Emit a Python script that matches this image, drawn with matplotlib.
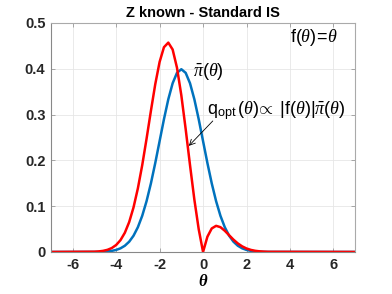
import matplotlib
matplotlib.use('Agg')
import matplotlib.pyplot as plt
import numpy as np

# theta grid (curves are flat zero outside [-5, 3])
theta = [-7.0, -5.0, -4.8, -4.6, -4.4, -4.2, -4.0, -3.8, -3.6, -3.4, -3.2,
         -3.0, -2.8, -2.6, -2.4, -2.2, -2.0, -1.8, -1.6, -1.4, -1.2,
         -1.0, -0.8, -0.6, -0.4, -0.2, 0.0, 0.2, 0.4, 0.6, 0.8,
         1.0, 1.2, 1.4, 1.6, 1.8, 2.0, 2.2, 2.4, 2.6, 2.8, 3.0, 7.0]

# target density pi_bar(theta)
pi_bar = [0.0, 0.00013, 0.00029, 0.00061, 0.00123, 0.00238, 0.00443, 0.00792, 0.01358, 0.02239, 0.03547,
          0.05399, 0.07895, 0.11092, 0.14973, 0.19419, 0.24197, 0.28969, 0.33322, 0.36827, 0.39104,
          0.39894, 0.39104, 0.36827, 0.33322, 0.28969, 0.24197, 0.19419, 0.14973, 0.11092, 0.07895,
          0.05399, 0.03547, 0.02239, 0.01358, 0.00792, 0.00443, 0.00238, 0.00123, 0.00061, 0.00029, 0.00013, 0.0]

# optimal proposal q_opt(theta)
q_opt = [0.0, 0.00056, 0.00119, 0.00241, 0.00464, 0.00857, 0.01519, 0.02580, 0.04191, 0.06526, 0.09729,
         0.13884, 0.18949, 0.24721, 0.30803, 0.36621, 0.41483, 0.44698, 0.45701, 0.44195, 0.40224,
         0.34197, 0.26816, 0.18941, 0.11425, 0.04966, 0.0, 0.03329, 0.05134, 0.05705, 0.05414,
         0.04628, 0.03649, 0.02687, 0.01863, 0.01222, 0.00759, 0.00449, 0.00253, 0.00136, 0.00070, 0.00033, 0.0]

xticks = [-6, -4, -2, 0, 2, 4, 6]
yticks = [0, 0.1, 0.2, 0.3, 0.4, 0.5]

plt.rcParams['font.family'] = ['Liberation Sans', 'DejaVu Sans']
plt.rcParams['mathtext.fontset'] = 'custom'
plt.rcParams['mathtext.rm'] = 'Liberation Sans'
plt.rcParams['mathtext.it'] = 'Liberation Serif:italic'
plt.rcParams['mathtext.bf'] = 'Liberation Sans:bold'

fig = plt.figure(figsize=(3.92, 2.94), dpi=100)
ax = fig.add_axes([0.130, 0.143, 0.776, 0.779])

ax.plot(theta, pi_bar, color='#0072BD', lw=1.8)
ax.plot(theta, q_opt, color='#FF0000', lw=1.8)

ax.set_xlim(-7, 7)
ax.set_ylim(0, 0.5)
ax.set_xticks(xticks)
ax.set_yticks(yticks)
ax.set_xticklabels([str(t) for t in xticks])
ax.set_yticklabels(['0', '0.1', '0.2', '0.3', '0.4', '0.5'])
ax.grid(True, color='#e6e6e6', lw=0.6)
ax.set_axisbelow(True)
ax.tick_params(direction='in', length=3, width=0.6, color='#999999',
               top=True, right=True, labelsize=10.5, labelcolor='#262626', pad=4)
for lbl in ax.get_xticklabels() + ax.get_yticklabels():
    lbl.set_fontweight('bold')
for s in ax.spines.values():
    s.set_color('#aaaaaa')
    s.set_linewidth(0.8)
ax.spines['left'].set_color('#888888')
ax.spines['bottom'].set_color('#888888')

ax.set_title('Z known - Standard IS', fontsize=10.5, fontweight='bold', pad=4)
ax.set_xlabel('θ', fontfamily='Liberation Serif', fontstyle='italic',
              fontweight='bold', fontsize=12, labelpad=2)

ax.text(3.99, 0.458, r'$\mathrm{f}(\theta)\!=\!\theta$', fontsize=13, ha='left', va='baseline')
ax.text(-0.47, 0.384, r'$\bar{\pi}(\theta)$', fontsize=13, ha='left', va='baseline')
ax.text(0.17, 0.301, r'$\mathrm{q}_{\mathrm{opt}}\,(\theta)\!\propto\ |\mathrm{f}(\theta)|\bar{\pi}(\theta)$',
        fontsize=13, ha='left', va='baseline')
ax.annotate('', xy=(-0.655, 0.2316), xytext=(0.448, 0.286),
            arrowprops=dict(arrowstyle='->', color='black', lw=0.6, shrinkA=0, shrinkB=0))

fig.savefig('out.png', dpi=100)
